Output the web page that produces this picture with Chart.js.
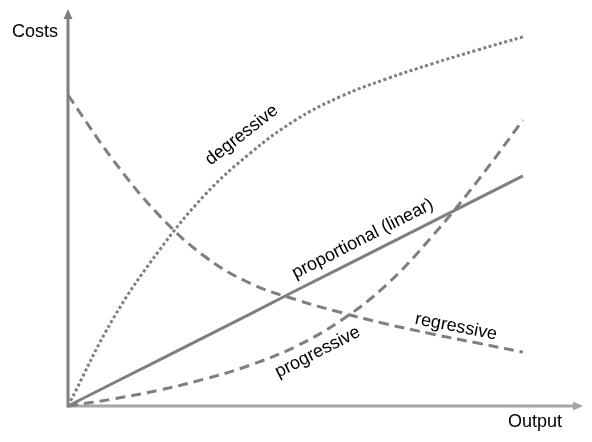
<!DOCTYPE html>
<html lang="en">
<head>
    <meta charset="UTF-8">
    <title>Cost curves</title>
    <script src="https://cdn.jsdelivr.net/npm/chart.js"></script>
    <style>
        body {
            margin: 0;
            padding: 0;
            background: #fff;
        }
        .container {
            width: 592px;
            height: 442px;
        }
    </style>
</head>
<body>
    <div class="container">
        <canvas id="graficoCustos" width="592" height="442"></canvas>
    </div>

    <script>
        // output levels (x) and the four cost curves (y)
        const outputLevels = [0, 1, 2, 3, 4, 5, 6, 7, 8, 9, 10];
        const proportional = [0, 0.58, 1.16, 1.74, 2.32, 2.91, 3.49, 4.07, 4.65, 5.23, 5.81];
        const degressive = [0, 2.22, 3.92, 5.32, 6.38, 7.22, 7.82, 8.26, 8.64, 8.99, 9.32];
        const regressive = [7.85, 6.20, 4.82, 3.78, 3.10, 2.69, 2.36, 2.07, 1.82, 1.59, 1.36];
        const progressive = [0, 0.18, 0.40, 0.68, 1.03, 1.50, 2.16, 3.06, 4.28, 5.68, 7.22];

        // curve labels: text, x, y (data units), rotation in degrees
        const curveLabels = [
            { text: 'degressive', x: 3.82, y: 6.84, angle: -38 },
            { text: 'proportional (linear)', x: 6.48, y: 4.22, angle: -27 },
            { text: 'regressive', x: 8.53, y: 2.0, angle: 11 },
            { text: 'progressive', x: 5.49, y: 1.36, angle: -27 }
        ];

        const cinza = '#7f7f7f';
        const cinzaClaro = '#a6a6a6';
        const fonte = '18px "Liberation Sans", Arial, sans-serif';

        const pontos = (ys) => outputLevels.map((x, i) => ({ x: x, y: ys[i] }));

        // eixos com setas e os textos sobre as curvas
        const eixosPlugin = {
            id: 'eixos',
            beforeDatasetsDraw(chart) {
                const ctx = chart.ctx;
                const a = chart.chartArea;
                ctx.save();
                // eixo x
                ctx.strokeStyle = cinzaClaro;
                ctx.fillStyle = cinzaClaro;
                ctx.lineWidth = 3;
                ctx.beginPath();
                ctx.moveTo(a.left, a.bottom);
                ctx.lineTo(a.right - 8, a.bottom);
                ctx.stroke();
                ctx.beginPath();
                ctx.moveTo(a.right, a.bottom);
                ctx.lineTo(a.right - 10, a.bottom - 4.5);
                ctx.lineTo(a.right - 10, a.bottom + 4.5);
                ctx.closePath();
                ctx.fill();
                // eixo y
                ctx.strokeStyle = cinza;
                ctx.fillStyle = cinza;
                ctx.beginPath();
                ctx.moveTo(a.left, a.bottom + 1.5);
                ctx.lineTo(a.left, a.top + 8);
                ctx.stroke();
                ctx.beginPath();
                ctx.moveTo(a.left, a.top - 1);
                ctx.lineTo(a.left - 4.5, a.top + 9);
                ctx.lineTo(a.left + 4.5, a.top + 9);
                ctx.closePath();
                ctx.fill();
                // titulos dos eixos
                ctx.fillStyle = '#000';
                ctx.font = fonte;
                ctx.textBaseline = 'alphabetic';
                ctx.textAlign = 'left';
                ctx.fillText('Costs', 12, 37);
                ctx.fillText('Output', 508, 427);
                ctx.restore();
            },
            afterDatasetsDraw(chart) {
                const ctx = chart.ctx;
                const sx = chart.scales.x;
                const sy = chart.scales.y;
                ctx.save();
                ctx.fillStyle = '#000';
                ctx.font = fonte;
                ctx.textAlign = 'center';
                ctx.textBaseline = 'middle';
                curveLabels.forEach(l => {
                    ctx.save();
                    ctx.translate(sx.getPixelForValue(l.x), sy.getPixelForValue(l.y));
                    ctx.rotate(l.angle * Math.PI / 180);
                    ctx.fillText(l.text, 0, 0);
                    ctx.restore();
                });
                ctx.restore();
            }
        };

        const datasets = [
            {
                label: 'proportional (linear)',
                data: pontos(proportional),
                borderColor: cinza,
                borderWidth: 3,
                tension: 0
            },
            {
                label: 'degressive',
                data: pontos(degressive),
                borderColor: cinza,
                borderWidth: 3,
                borderDash: [3, 2.5],
                tension: 0.4
            },
            {
                label: 'regressive',
                data: pontos(regressive),
                borderColor: cinza,
                borderWidth: 3,
                borderDash: [10, 6],
                tension: 0.4
            },
            {
                label: 'progressive',
                data: pontos(progressive),
                borderColor: cinza,
                borderWidth: 3,
                borderDash: [10, 6],
                tension: 0.4
            }
        ];

        new Chart(document.getElementById('graficoCustos'), {
            type: 'line',
            data: { datasets: datasets },
            options: {
                responsive: false,
                animation: false,
                clip: false,
                layout: {
                    padding: { left: 68, right: 9, top: 10, bottom: 36 }
                },
                elements: {
                    point: { radius: 0 },
                    line: { fill: false }
                },
                plugins: {
                    legend: { display: false },
                    tooltip: { enabled: false }
                },
                scales: {
                    x: { type: 'linear', min: 0, max: 11.32, display: false },
                    y: { type: 'linear', min: 0, max: 10, display: false }
                }
            },
            plugins: [eixosPlugin]
        });
    </script>
</body>
</html>
